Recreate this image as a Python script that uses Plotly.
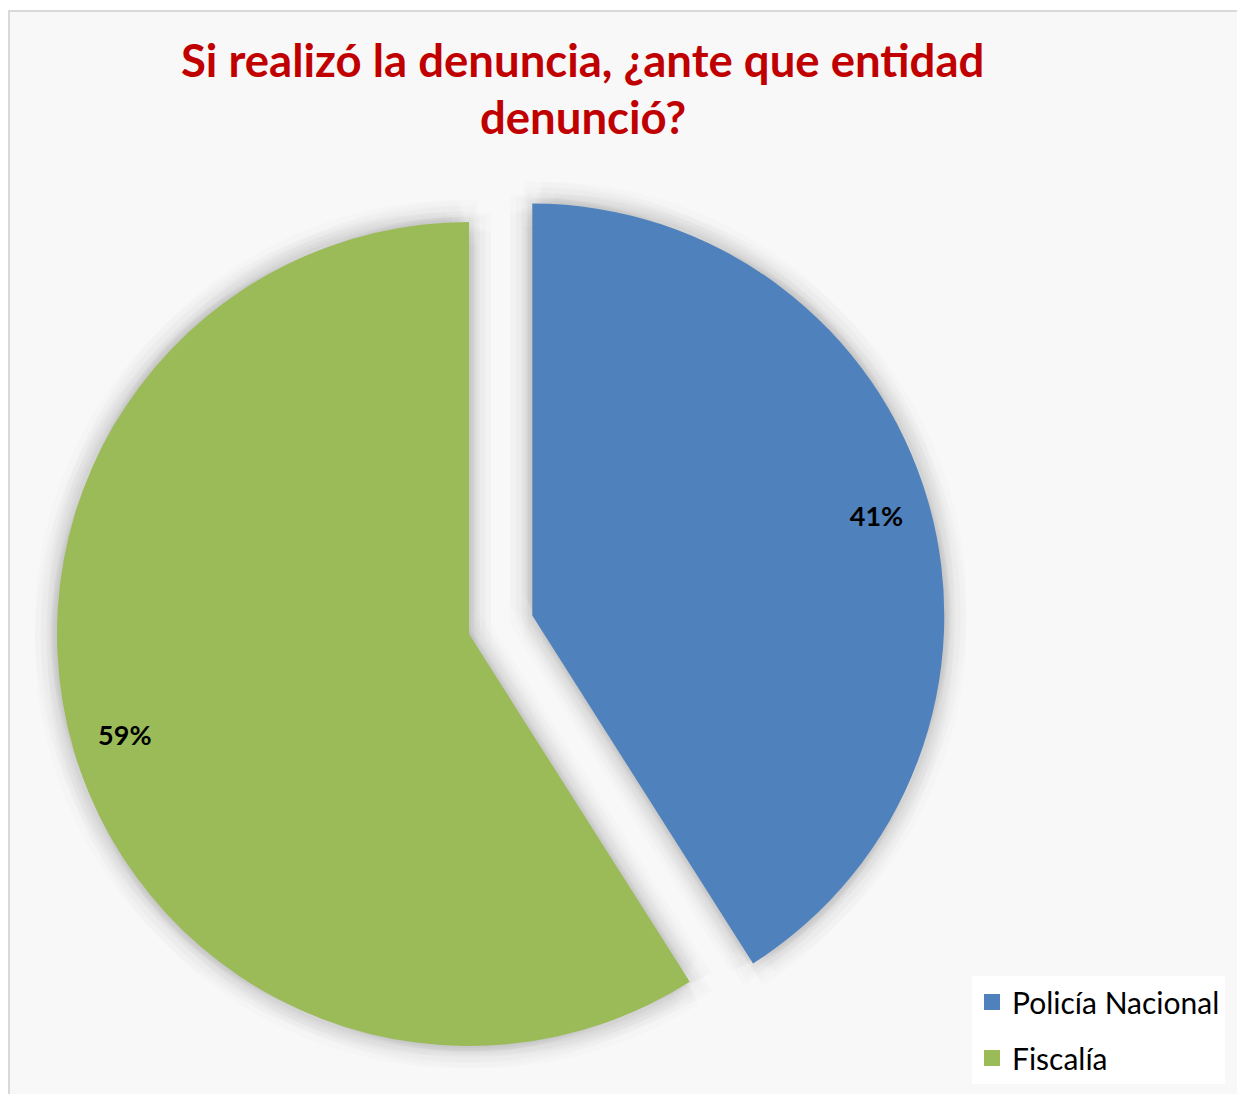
import math
import plotly.graph_objects as go

# ---- data ----
labels = ["Policía Nacional", "Fiscalía"]
values = [41, 59]
colors = ["#4F81BD", "#9BBB59"]
title_lines = ["Si realizó la denuncia, ¿ante que entidad", "denunció?"]

# ---- layout constants ----
W, H = 1245, 1094
OFF = 8                         # page body margin added by the browser
CLEAR = "rgba(0,0,0,0)"
CX, CY, R = 469, 634, 412       # centre/radius of the pie in page pixels
PULL = 0.16                     # explode distance of first slice (fraction of R)
exploded = 0


def fx(x):
    return (x - OFF) / W


def fy(y):
    return 1 - (y - OFF) / H


def dom(cx, cy, r):
    return dict(x=[fx(cx - r), fx(cx + r)], y=[fy(cy + r), fy(cy - r)])


total = sum(values)
n = len(values)
centers = []
start = 0.0
for i, v in enumerate(values):
    mid = math.radians((start + v / 2) / total * 360)
    start += v
    if i == exploded:
        centers.append((CX + PULL * R * math.sin(mid), CY - PULL * R * math.cos(mid)))
    else:
        centers.append((CX, CY))

fig = go.Figure()
common = dict(labels=labels, values=values, sort=False, direction="clockwise",
              rotation=0, hoverinfo="skip", showlegend=False)

# soft drop shadow: offset translucent copies of each slice
SHADOW = "rgba(0,0,0,0.011)"
for k in range(n):
    cx, cy = centers[k]
    fill = [SHADOW if i == k else CLEAR for i in range(n)]
    for d in (6, 12, 18, 24):
        for a in range(8):
            ang = math.radians(a * 45 + 22.5)
            fig.add_trace(go.Pie(**common, marker=dict(colors=fill, line=dict(width=0)),
                                 textinfo="none",
                                 domain=dom(cx + d * math.cos(ang), cy + d * math.sin(ang), R)))

for k in range(n):
    cx, cy = centers[k]
    fill = [colors[i] if i == k else CLEAR for i in range(n)]
    fig.add_trace(go.Pie(**common, marker=dict(colors=fill, line=dict(width=0)),
                         textinfo="none", domain=dom(cx, cy, R)))
for k in range(n):
    cx, cy = centers[k]
    txt = ["<b>%{percent:.0%}</b>" if i == k else "" for i in range(n)]
    fig.add_trace(go.Pie(**common, hole=0.74,
                         marker=dict(colors=[CLEAR] * n, line=dict(width=0)),
                         texttemplate=txt, textposition="inside",
                         insidetextorientation="horizontal",
                         textfont=dict(family="Lato", size=27, color="#000000"),
                         domain=dom(cx, cy, R)))

for lab, col in zip(labels, colors):
    fig.add_trace(go.Scatter(x=[None], y=[None], mode="markers", name=lab,
                             legendgroup=lab, hoverinfo="skip",
                             marker=dict(symbol="square", size=16, color=col)))

for line, (xc, yb) in zip(title_lines, [(582, 78), (583, 135)]):
    fig.add_annotation(text="<b>" + line + "</b>", x=fx(xc), y=fy(yb),
                       xref="paper", yref="paper", xanchor="center", yanchor="bottom",
                       showarrow=False, yshift=-11,
                       font=dict(family="Lato", size=45.5, color="#C00000"))

fig.add_shape(type="rect", xref="paper", yref="paper", x0=fx(9), x1=1.02,
              y0=-0.02, y1=fy(11), fillcolor="#F8F8F8",
              line=dict(color="#D9D9D9", width=2), layer="below")

fig.update_layout(
    width=W, height=H,
    margin=dict(l=0, r=0, t=0, b=0),
    paper_bgcolor="white", plot_bgcolor=CLEAR,
    xaxis=dict(visible=False), yaxis=dict(visible=False),
    legend=dict(x=fx(972), y=fy(976), xanchor="left", yanchor="top",
                bgcolor="white", tracegroupgap=14, traceorder="grouped",
                font=dict(family="Lato", size=30, color="#000000")),
)

fig.write_html("out.html")
